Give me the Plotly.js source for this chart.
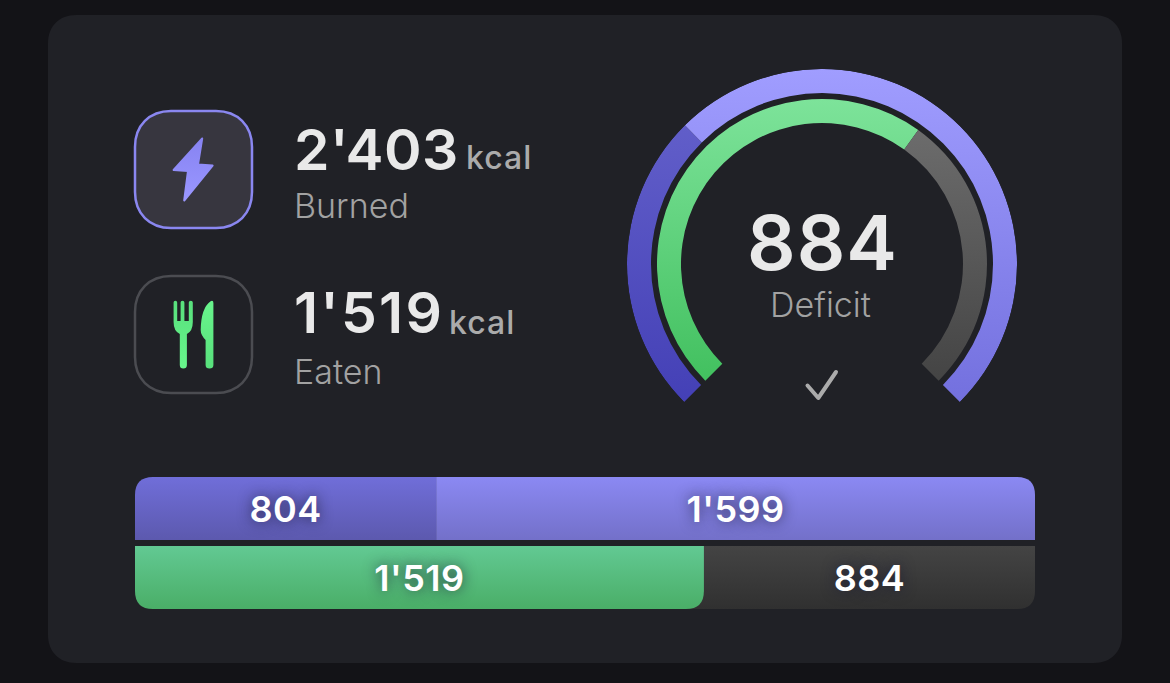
<!DOCTYPE html>
<html>
<head>
<meta charset="utf-8">
<script src="https://cdn.plot.ly/plotly-3.0.1.min.js"></script>
<style>html,body{margin:0;padding:0;background:#131317;overflow:hidden}#chart{width:1170px;height:683px}</style>
</head>
<body>
<div id="chart"></div>
<script>
// ---- data
const rows = ['Burned', 'Eaten'];
const firstPart = [804, 1519];
const secondPart = [1599, 884];
const totalBurned = 2403;
const eaten = 1519;
const deficit = 884;
const unit = 'kcal';
const centerLabel = 'Deficit';

const W = 1170, H = 683;
const px = x => x / W;
const py = y => 1 - y / H;
const fmt = v => String(v).replace(/\B(?=(\d{3})+$)/g, "'");

// pixel-space path -> paper-space path
function paperPath(cmds) {
  return cmds.map(c => c[0] + c.slice(1).map((v, i) => (i % 2 ? py(v) : px(v))).join(',')).join(' ');
}
function roundRect(x0, y0, x1, y1, r) {
  return paperPath([
    ['M', x0 + r, y0], ['L', x1 - r, y0], ['C', x1 - r * 0.4, y0, x1, y0 + r * 0.4, x1, y0 + r],
    ['L', x1, y1 - r], ['C', x1, y1 - r * 0.4, x1 - r * 0.4, y1, x1 - r, y1],
    ['L', x0 + r, y1], ['C', x0 + r * 0.4, y1, x0, y1 - r * 0.4, x0, y1 - r],
    ['L', x0, y0 + r], ['C', x0, y0 + r * 0.4, x0 + r * 0.4, y0, x0 + r, y0], ['Z']
  ]);
}
const boltPath = paperPath([['M',202.2,138.5],['L',173.6,170],['L',188,171],['L',184.2,200.5],['L',212.6,165.6],['L',198,164.6],['Z']]);
const forkPath = paperPath([
  ['M',173.6,302.5],['Q',173.6,300.7,175.3,300.7],['Q',177.2,300.7,177.2,302.5],['L',177.2,321],['L',180.6,321],['L',180.6,302.5],
  ['Q',180.6,300.7,182.5,300.7],['Q',184.4,300.7,184.4,302.5],['L',184.4,321],['L',188.8,321],['L',188.8,302.5],
  ['Q',188.8,300.7,190.8,300.7],['Q',192.8,300.7,192.8,302.5],['L',192.8,322],['Q',192.8,331,186.9,334],
  ['L',186.9,365],['Q',186.9,368.5,183.3,368.5],['Q',179.8,368.5,179.8,365],['L',179.8,334],['Q',173.6,331,173.6,322],['Z']
]);
const knifePath = paperPath([
  ['M',213.4,303],['Q',213.4,300,210.6,301.2],['Q',201,308,200.7,330],['Q',200.7,335,205.6,340],
  ['L',205.6,365],['Q',205.6,368.5,209.5,368.5],['Q',213.4,368.5,213.4,365],['Z']
]);
const checkPath = paperPath([['M',807.5,385.5],['L',818.3,398],['L',836,372]]);

const shapes = [
  {type:'path', path:roundRect(48,15,1122,663,28), xref:'paper', yref:'paper', fillcolor:'#202126', line:{width:0}, layer:'below'},
  {type:'path', path:roundRect(135,111,252,228,36), xref:'paper', yref:'paper', fillcolor:'#37363F', line:{color:'#8A87F0',width:2.5}, layer:'below'},
  {type:'path', path:roundRect(135,276,252,393,36), xref:'paper', yref:'paper', fillcolor:'#202126', line:{color:'#4B4C51',width:2.5}, layer:'below'},
  {type:'path', path:boltPath, xref:'paper', yref:'paper', fillcolor:'#908DFF', line:{color:'#908DFF',width:2}, layer:'below'},
  {type:'path', path:forkPath, xref:'paper', yref:'paper', fillcolor:'#62EE85', line:{width:0}, layer:'below'},
  {type:'path', path:knifePath, xref:'paper', yref:'paper', fillcolor:'#62EE85', line:{width:0}, layer:'below'},
  {type:'path', path:checkPath, xref:'paper', yref:'paper', line:{color:'#ABABAB',width:4}, layer:'below'}
];

const bigFont = {family:'Inter', size:57, weight:600, color:'#E9E9E9'};
const unitFont = {family:'Inter', size:32, weight:500, color:'#ABABAB'};
const labelFont = {family:'Inter', size:34, weight:300, color:'#A2A2A2'};
function note(text, x, y, font, anchor) {
  return {text, x:px(x), y:py(y), xref:'paper', yref:'paper', xanchor:anchor || 'left', yanchor:'middle', showarrow:false, font, borderpad:0, align:'left'};
}
const annotations = [
  note(fmt(totalBurned), 293, 149, bigFont),
  note(unit, 465, 157, unitFont),
  note(rows[0], 293, 206, labelFont),
  note(fmt(eaten), 293, 313, bigFont),
  note(unit, 448, 322, unitFont),
  note(rows[1], 293, 371, labelFont),
  note(String(deficit), 821, 242, {family:'Inter', size:76, weight:600, color:'#E9E9E9'}, 'center'),
  note(centerLabel, 821, 305, labelFont, 'center')
];

// gauge: burned total spans 270 degrees, from -135 to +135
const gaugeSpan = 270, gaugeStart = -135;
const toAngle = v => v * gaugeSpan / totalBurned;
function ring(parts, base, thick, colors) {
  let start = gaugeStart;
  const theta = [], width = [];
  parts.forEach(p => { const w = toAngle(p); theta.push(start + w / 2); width.push(w); start += w; });
  return {type:'barpolar', r:parts.map(() => thick), base:parts.map(() => base), theta, width,
          marker:{color:colors, line:{width:0}}, hoverinfo:'skip', showlegend:false};
}
const barText = {family:'Inter', size:36, weight:600, color:'#FFFFFF', shadow:'0 0 14px rgba(25,25,50,0.75)'};
function barTrace(values, base, colors) {
  return {type:'bar', orientation:'h', y:rows, x:values, base, text:values.map(fmt), textposition:'inside',
          insidetextanchor:'middle', textangle:0, constraintext:'none', textfont:barText, insidetextfont:barText,
          marker:{color:colors, line:{width:0}}, hoverinfo:'skip', showlegend:false, cliponaxis:false};
}

const traces = [
  barTrace(secondPart, firstPart, ['#807EE0','#3A3A3A']),
  barTrace(firstPart, [0,0], ['#6562C0','#55BC7E']),
  ring([firstPart[0], secondPart[0]], 171, 24, ['#5552C0','#8A87F0']),
  ring([firstPart[1], secondPart[1]], 141, 24, ['#5CD27C','#585858'])
];

const layout = {
  width:W, height:H, margin:{l:0,r:0,t:0,b:0}, paper_bgcolor:'#131317', plot_bgcolor:'rgba(0,0,0,0)',
  barmode:'overlay', bargap:6/69, showlegend:false, shapes, annotations,
  xaxis:{domain:[px(135),px(1035)], range:[0,totalBurned], visible:false, fixedrange:true},
  yaxis:{domain:[py(612),py(474)], type:'category', categoryorder:'array', categoryarray:rows, range:[1.5,-0.5], visible:false, fixedrange:true},
  polar:{domain:{x:[px(627),px(1017)], y:[py(459),py(69)]}, bgcolor:'rgba(0,0,0,0)',
         radialaxis:{visible:false, range:[0,195]},
         angularaxis:{visible:false, rotation:90, direction:'clockwise'}}
};

const gd = document.getElementById('chart');
Plotly.newPlot(gd, traces, layout, {staticPlot:true, displayModeBar:false}).then(() => {
  const svg = gd.querySelector('.main-svg');
  const NS = 'http://www.w3.org/2000/svg';
  const defs = document.createElementNS(NS, 'defs');
  svg.insertBefore(defs, svg.firstChild);
  function grad(id, top, bottom) {
    const g = document.createElementNS(NS, 'linearGradient');
    g.setAttribute('id', id); g.setAttribute('x1', 0); g.setAttribute('y1', 0); g.setAttribute('x2', 0); g.setAttribute('y2', 1);
    [[0, top], [1, bottom]].forEach(([o, c]) => {
      const s = document.createElementNS(NS, 'stop');
      s.setAttribute('offset', o); s.setAttribute('stop-color', c); g.appendChild(s);
    });
    defs.appendChild(g);
    return 'url(#' + id + ')';
  }
  const paint = (el, id, top, bottom) => { if (el) el.style.fill = grad(id, top, bottom); };

  // stacked bars: colour and corners
  const groups = gd.querySelectorAll('.cartesianlayer .barlayer .trace');
  const barStyles = [
    [{id:'b1', t:'#8B89F3', b:'#7370C9', r:[0,18,0,0]}, {id:'b2', t:'#444444', b:'#303030', r:[0,0,18,0], extend:20}],
    [{id:'b3', t:'#706ED9', b:'#5C59AE', r:[18,0,0,0]}, {id:'b4', t:'#62C993', b:'#4AAE67', r:[0,0,18,18]}]
  ];
  groups.forEach((g, ti) => {
    g.querySelectorAll('.point path').forEach((p, pi) => {
      const st = barStyles[ti][pi], bb = p.getBBox();
      const x0 = bb.x - (st.extend || 0), x1 = bb.x + bb.width, y0 = bb.y, y1 = bb.y + bb.height;
      const [tl, tr, br, bl] = st.r;
      p.setAttribute('d', `M${x0 + tl},${y0} H${x1 - tr} Q${x1},${y0} ${x1},${y0 + tr} V${y1 - br} Q${x1},${y1} ${x1 - br},${y1} H${x0 + bl} Q${x0},${y1} ${x0},${y1 - bl} V${y0 + tl} Q${x0},${y0} ${x0 + tl},${y0} Z`);
      paint(p, st.id, st.t, st.b);
    });
    // bar labels are slightly tracked
    g.querySelectorAll('.point text').forEach(t => { t.style.letterSpacing = '0.5px'; });
  });

  // gauge gradients
  const gaugeStyles = [['g1','#615EC9','#4440B6'], ['g2','#A09DFF','#7370DE'], ['g3','#7DE39A','#42C05F'], ['g4','#6C6C6C','#444444']];
  gd.querySelectorAll('.polarlayer .barlayer .point path').forEach((p, i) => {
    const s = gaugeStyles[i];
    if (s) paint(p, s[0], s[1], s[2]);
  });

  // icons
  const shapeEls = gd.querySelectorAll('.layer-below .shapelayer path');
  if (shapeEls[3]) { paint(shapeEls[3], 'ic1', '#8783F2', '#9A97FF'); shapeEls[3].style.strokeLinejoin = 'round'; shapeEls[3].style.stroke = 'url(#ic1)'; }
  if (shapeEls[4]) paint(shapeEls[4], 'ic2', '#58E07C', '#68F58C');
  if (shapeEls[5]) paint(shapeEls[5], 'ic3', '#68F58C', '#58E07C');
  if (shapeEls[6]) { shapeEls[6].style.strokeLinecap = 'round'; shapeEls[6].style.strokeLinejoin = 'round'; shapeEls[6].style.fill = 'none'; }

  // tracking to match the widths seen in the reference
  const tracking = {};
  tracking[unit] = '1px';
  tracking[fmt(totalBurned)] = '0.5px';
  tracking[fmt(eaten)] = '2.2px';
  tracking[String(deficit)] = '1px';
  gd.querySelectorAll('.annotation-text').forEach(t => {
    const v = tracking[t.textContent];
    if (v) t.style.letterSpacing = v;
  });
});
</script>
</body>
</html>
